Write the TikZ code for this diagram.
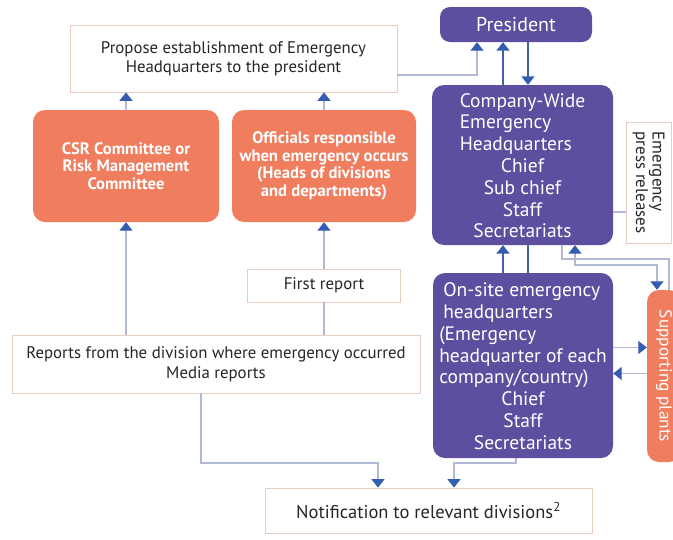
\documentclass[tikz,border=0pt]{standalone}
\usepackage{fontspec}
\setmainfont{PT Sans}
\usetikzlibrary{arrows.meta,calc}
\definecolor{hqpurple}{RGB}{93,78,160}
\definecolor{orng}{RGB}{239,125,94}
\definecolor{darkline}{RGB}{62,98,172}
\definecolor{arrowblue}{RGB}{52,92,176}
\definecolor{liteline}{RGB}{176,186,212}
\definecolor{boxborder}{RGB}{234,204,194}
\tikzset{
  >={Triangle[width=13pt,length=8.5pt,color=arrowblue]},
  box/.style={draw=boxborder, line width=0.8pt, fill=white, text=black!85, align=center,
    font=\fontsize{16.8}{19.5}\selectfont, inner sep=0pt},
  hq/.style={fill=hqpurple, rounded corners=12pt, text=white, align=center,
    font=\fontsize{19.5}{21.8}\selectfont, inner sep=0pt},
  org/.style={fill=orng, rounded corners=12pt, text=white, align=center,
    font=\bfseries\fontsize{16.6}{17.5}\selectfont, inner sep=0pt},
  lite/.style={draw=liteline, line width=1.3pt},
  darkln/.style={draw=darkline, line width=1.8pt},
}
\begin{document}
\begin{tikzpicture}[x=1pt,y=-1pt]
\useasboundingbox[fill=white] (0,0) rectangle (673,539);

% nodes
\node[hq, minimum width=152pt, minimum height=35pt, rounded corners=10pt,
  font=\fontsize{20}{22}\selectfont] (pres) at (516,24.5) {President};
\node[box, minimum width=327pt, minimum height=67pt] (prop) at (233.5,58.5)
  {Propose establishment of Emergency\\Headquarters to the president};
\node[hq, minimum width=181pt, minimum height=160pt] (cw) at (522.5,165)
  {\begin{tabular}[b]{@{}l@{}}Company-Wide\\Emergency\\Headquarters\end{tabular}\\Chief\\Sub chief\\Staff\\Secretariats};
\node[box, rotate=-90, align=left, minimum width=121pt, minimum height=45pt,
  font=\fontsize{17}{16.5}\selectfont] (press) at (648.5,182.5) {Emergency\\press releases};
\node[org, minimum width=186pt, minimum height=112pt] (csr) at (126,166)
  {CSR Committee or\\Risk Management\\Committee};
\node[org, minimum width=184pt, minimum height=112pt] (off) at (324,166)
  {Officials responsible\\when emergency occurs\\(Heads of divisions\\and departments)};
\node[box, minimum width=153pt, minimum height=33pt] (first) at (324,285.5) {First report};
\node[box, minimum width=408pt, minimum height=58pt] (rep) at (216,364)
  {Reports from the division where emergency occurred\\Media reports};
\node[hq, minimum width=180pt, minimum height=185pt] (on) at (523,365.5)
  {\begin{tabular}[b]{@{}l@{}}\hspace{4pt}On-site emergency\\\hspace{4pt}headquarters\\(Emergency\\headquarter of each\\company/country)\end{tabular}\\Chief\\Staff\\Secretariats};
\node[org, rotate=-90, minimum width=172pt, minimum height=34pt,
  font=\fontsize{17.3}{18}\selectfont] (sp) at (664,376) {Supporting plants};
\node[box, minimum width=327pt, minimum height=45pt, font=\fontsize{18.5}{20}\selectfont] (note) at (428.5,510.5)
  {Notification to relevant divisions\textsuperscript{2}};

% bend coordinates
\coordinate (b1) at (477,75);
\coordinate (nl) at (378,463);
\coordinate (nr) at (454,463);
\coordinate (r1) at (562,259);
\coordinate (r2) at (669,259);
\coordinate (r3) at (575,265);
\coordinate (r4) at (657,265);

% connectors
\draw[lite,->] (prop.east |- b1) -| (pres.south -| b1);
\draw[darkln,->] ([xshift=-13pt]pres.south |- cw.north) -- ([xshift=-13pt]pres.south);
\draw[darkln,->] ([xshift=12pt]pres.south) -- ([xshift=12pt]pres.south |- cw.north);
\draw[lite,->] (csr.north) -- (csr.north |- prop.south);
\draw[lite,->] (off.north) -- (off.north |- prop.south);
\draw[lite,->] (rep.north -| csr.south) -- (csr.south);
\draw[lite,->] (first.north) -- (off.south);
\draw[lite] (rep.north -| first.south) -- (first.south);
\draw[lite,->] ([xshift=-15pt]rep.south) |- (nl) -- (nl |- note.north);
\draw[lite,->] ([xshift=-7pt]on.south) |- (nr) -- (nr |- note.north);
\draw[darkln,->] ([xshift=-20pt]on.north) -- ([xshift=-20pt]on.north |- cw.south);
\draw[darkln] ([xshift=5pt]on.north) -- ([xshift=5pt]on.north |- cw.south);
\draw[lite] (r1 |- cw.south) -- (r1) -- (r2) -- (r2 |- sp.west);
\draw[lite,<->] (r3 |- cw.south) -- (r3) -- (r4) -- (r4 |- sp.west);
\draw[lite,->] ([yshift=18pt]on.east) -- ([yshift=18pt]on.east -| sp.south);
\draw[lite,->] ([yshift=-8pt]on.east -| sp.south) -- ([yshift=-8pt]on.east);
\draw[lite] ([yshift=-29.5pt]press.south) -- ([yshift=-29.5pt]press.south -| cw.east);
\end{tikzpicture}
\end{document}
